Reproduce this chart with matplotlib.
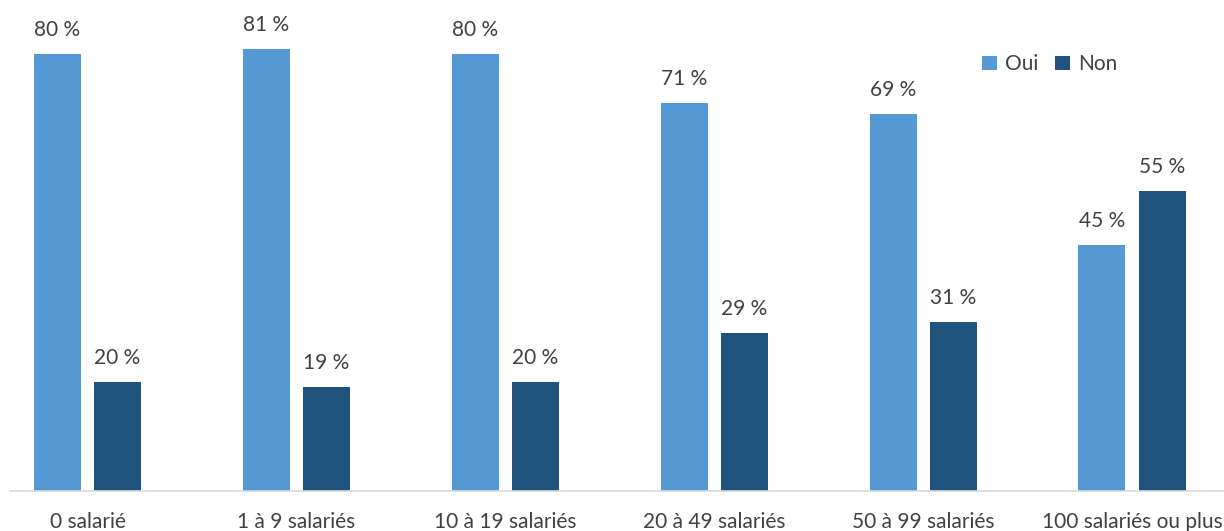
import numpy as np
import matplotlib.pyplot as plt

categories = ['0 salarié', '1 à 9 salariés', '10 à 19 salariés', '20 à 49 salariés',
              '50 à 99 salariés', '100 salariés ou plus']
oui = [80, 81, 80, 71, 69, 45]
non = [20, 19, 20, 29, 31, 55]

plt.rcParams['font.family'] = ['Lato', 'DejaVu Sans']

fig = plt.figure(figsize=(12.24, 5.31), dpi=100)
ax = fig.add_axes([10 / 1224, 40 / 531, 1 - 10 / 1224, 491 / 531])

x = np.arange(len(categories))
w = 0.225
off = 0.144
b1 = ax.bar(x - off, oui, w, color='#5599D4', label='Oui')
b2 = ax.bar(x + off, non, w, color='#1F527C', label='Non')

# étiquettes de valeurs au-dessus des barres
for bars, vals in [(b1, oui), (b2, non)]:
    for r, v in zip(bars, vals):
        ax.annotate(f'{v} %', (r.get_x() + r.get_width() / 2, v), xytext=(0, 10),
                    textcoords='offset points', ha='center', va='bottom',
                    fontsize=15, color='#404040')

ax.set_xlim(-0.371, 5.44)
ax.set_ylim(0, 89.9)
ax.set_xticks(x)
ax.set_xticklabels(categories, fontsize=15, color='#404040')
ax.tick_params(axis='x', length=0, pad=15)
ax.set_yticks([])
for s in ['top', 'left', 'right']:
    ax.spines[s].set_visible(False)
ax.spines['bottom'].set_color('#D9D9D9')
ax.spines['bottom'].set_linewidth(1.2)

ax.legend(loc='upper left', bbox_to_anchor=(964 / 1214, 1 - 46 / 491), ncol=2, frameon=False,
          fontsize=15, handlelength=0.7, handleheight=0.7, handletextpad=0.4,
          columnspacing=0.8, labelcolor='#404040', borderaxespad=0)

fig.savefig('out.png', dpi=100)
